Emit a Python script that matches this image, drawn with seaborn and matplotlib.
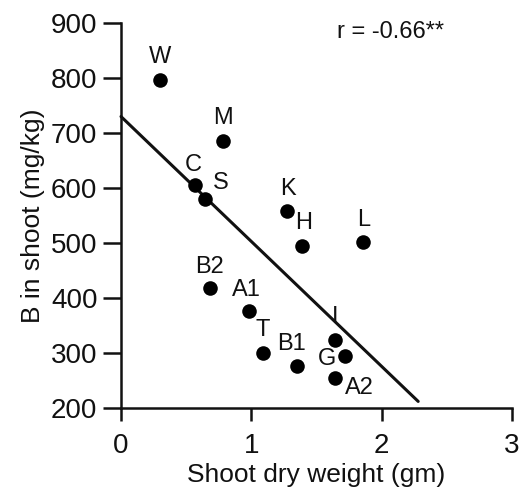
import seaborn as sns
import pandas as pd
import matplotlib.pyplot as plt

# genotypes: shoot dry weight (gm) vs B in shoot (mg/kg)
labels = ["W", "M", "C", "S", "K", "H", "L", "B2", "A1", "T", "B1", "I", "G", "A2"]
dry_weight = [0.30, 0.78, 0.57, 0.645, 1.27, 1.39, 1.86, 0.68, 0.98, 1.09, 1.35, 1.64, 1.72, 1.64]
b_shoot = [796, 685, 605, 580, 558, 495, 502, 418, 376, 300, 276, 324, 295, 255]

# regression line end points
fit_x = [0, 2.28]
fit_y = [730, 212]
r_text = "r = -0.66**"

xticks = [0, 1, 2, 3]
yticks = [200, 300, 400, 500, 600, 700, 800, 900]

# label offsets in pixels (dx, dy), y up
offsets = {"W": (0, 23), "M": (0, 23), "C": (-2, 20), "S": (16, 16), "K": (1, 22),
           "H": (1, 23), "L": (0, 22), "B2": (0, 21), "A1": (-2, 21), "T": (0, 23),
           "B1": (-5, 22), "I": (0, 23), "G": (-18, -3), "A2": (25, -10)}

sns.set_style("ticks")
plt.rcParams['font.family'] = ['Liberation Sans', 'DejaVu Sans']
ink = "#111111"

df = pd.DataFrame({"label": labels, "x": dry_weight, "y": b_shoot})

fig = plt.figure(figsize=(5.2, 4.92), dpi=100)
ax = fig.add_axes([0.2327, 0.1707, 0.752, 0.7825])

sns.scatterplot(data=df, x="x", y="y", color="black", s=110, edgecolor="black",
                linewidth=0, ax=ax, zorder=3)
ax.plot(fit_x, fit_y, color=ink, lw=2.2, clip_on=False, zorder=2)

for lab, x, y in zip(labels, dry_weight, b_shoot):
    dx, dy = offsets[lab]
    ax.annotate(lab, (x, y), xytext=(dx, dy), textcoords="offset pixels",
                ha="center", va="center", fontsize=17, color=ink)

ax.text(1.66, 884, r_text, ha="left", va="center", fontsize=17, color=ink)

ax.set_xlim(0, 3)
ax.set_ylim(200, 900)
ax.set_xticks(xticks)
ax.set_yticks(yticks)
ax.set_xlabel("Shoot dry weight (gm)", fontsize=19, labelpad=3, color=ink)
ax.set_ylabel("B in shoot (mg/kg)", fontsize=19, labelpad=4, color=ink)
ax.tick_params(axis="both", labelsize=20, width=1.8, color=ink, labelcolor=ink)
ax.tick_params(axis="x", length=9, pad=9)
ax.tick_params(axis="y", length=13, pad=4)
for side in ["left", "bottom"]:
    ax.spines[side].set_linewidth(1.8)
    ax.spines[side].set_color(ink)
sns.despine(ax=ax)

fig.savefig("out.png", dpi=100)
